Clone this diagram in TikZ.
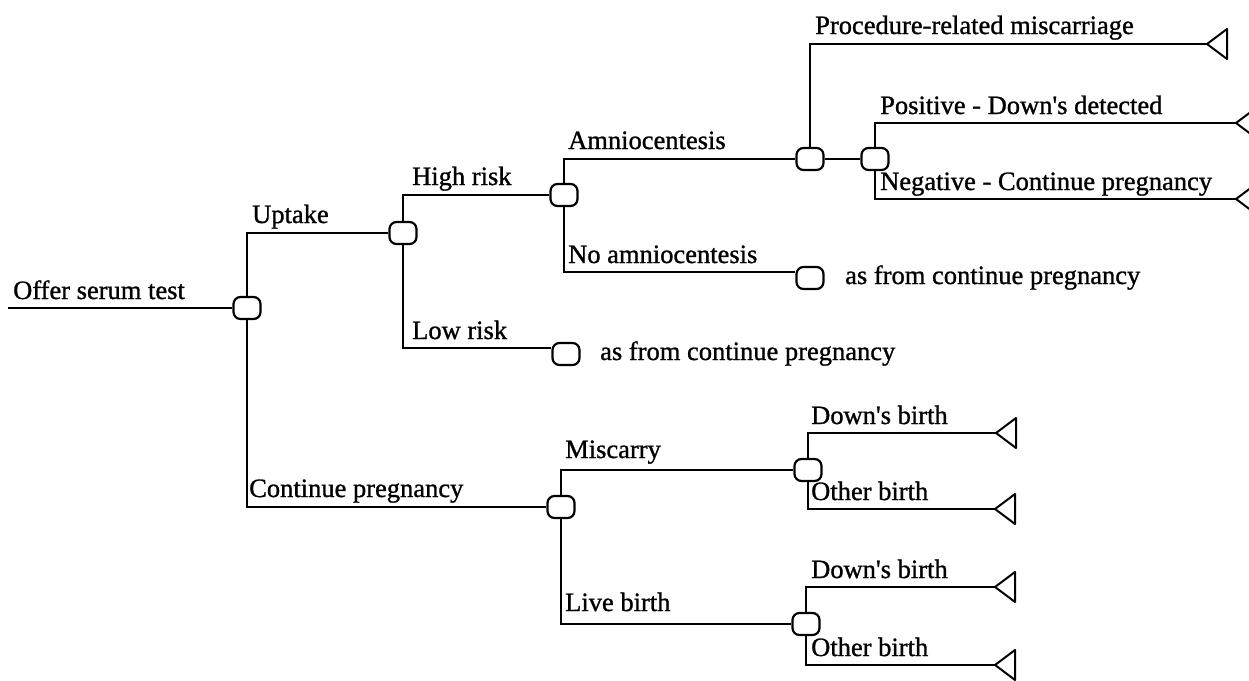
\documentclass[tikz,border=0pt]{standalone}
\usepackage{fontspec}
\setmainfont{Liberation Serif}
\newfontfamily\lblfont[FakeBold=1]{Liberation Serif}
\begin{document}
\begin{tikzpicture}[x=1pt,y=-1pt,
  chance/.style={rectangle, rounded corners=7pt, draw, fill=white, line width=2.2pt,
    minimum width=27pt, minimum height=22pt, inner sep=0pt},
  branch/.style={line width=2.2pt},
  lbl/.style={anchor=base west, inner sep=0pt, font=\lblfont\fontsize{26.5}{28}\selectfont},
  term/.pic={\draw[line width=2pt, line join=round] (0,0) -- (20,-15) -- (20,15) -- cycle;}
]
\clip (0,0) rectangle (1249,680);
\fill[white] (0,0) rectangle (1249,680);

% chance nodes
\node[chance] (c1)  at (247,308) {};
\node[chance] (c2)  at (403,233) {};
\node[chance] (hr)  at (564,195) {};
\node[chance] (am)  at (810,159) {};
\node[chance] (pn)  at (875,159) {};
\node[chance] (nam) at (810,278) {};
\node[chance] (lr)  at (566,354) {};
\node[chance] (cp)  at (561,507) {};
\node[chance] (mc)  at (808,470) {};
\node[chance] (lb)  at (806,624) {};

% terminal nodes
\coordinate (root) at (8,308);
\coordinate (tproc) at (1207,44);
\coordinate (tpos) at (1236,123);
\coordinate (tneg) at (1236,199);
\coordinate (td1) at (996,433);
\coordinate (to1) at (995,509);
\coordinate (td2) at (995,587);
\coordinate (to2) at (995,665);
\foreach \t in {tproc,tpos,tneg,td1,to1,td2,to2} {\pic at (\t) {term};}

% connectors
\draw[branch] (root) -- (c1.west);
\draw[branch] (c1.north) |- (c2.west);
\draw[branch] (c1.south) |- (cp.west);
\draw[branch] (c2.north) |- (hr.west);
\draw[branch] (c2.south) |- ([yshift=6pt]lr.west);
\draw[branch] (hr.north) |- (am.west);
\draw[branch] (hr.south) |- ([yshift=6pt]nam.west);
\draw[branch] (am.north) |- (tproc);
\draw[branch] (am.east) -- (pn.west);
\draw[branch] (pn.north) |- (tpos);
\draw[branch] (pn.south) |- (tneg);
\draw[branch] (cp.north) |- (mc.west);
\draw[branch] (cp.south) |- (lb.west);
\draw[branch] (mc.north) |- (td1);
\draw[branch] (mc.south) |- (to1);
\draw[branch] (lb.north) |- (td2);
\draw[branch] (lb.south) |- (to2);

% labels
\node[lbl] (l1) at (13,299) {Offer serum test};
\node[lbl] (l2) at (252,223) {Uptake};
\node[lbl] (l3) at (412,185) {High risk};
\node[lbl] (l4) at (412,339) {Low risk};
\node[lbl] (l5) at (568,149) {Amniocentesis};
\node[lbl] (l6) at (568,263) {No amniocentesis};
\node[lbl] (l7) at (845,284) {as from continue pregnancy};
\node[lbl] (l8) at (600,360) {as from continue pregnancy};
\node[lbl] (l9) at (815,34) {Procedure-related miscarriage};
\node[lbl] (l10) at (880,114) {Positive - Down's detected};
\node[lbl] (l11) at (880,190) {Negative - Continue pregnancy};
\node[lbl] (l12) at (249,497) {Continue pregnancy};
\node[lbl] (l13) at (565,458) {Miscarry};
\node[lbl] (l14) at (565,611) {Live birth};
\node[lbl] (l15) at (811,424) {Down's birth};
\node[lbl] (l16) at (811,500) {Other birth};
\node[lbl] (l17) at (811,578) {Down's birth};
\node[lbl] (l18) at (811,656) {Other birth};
\end{tikzpicture}
\end{document}
